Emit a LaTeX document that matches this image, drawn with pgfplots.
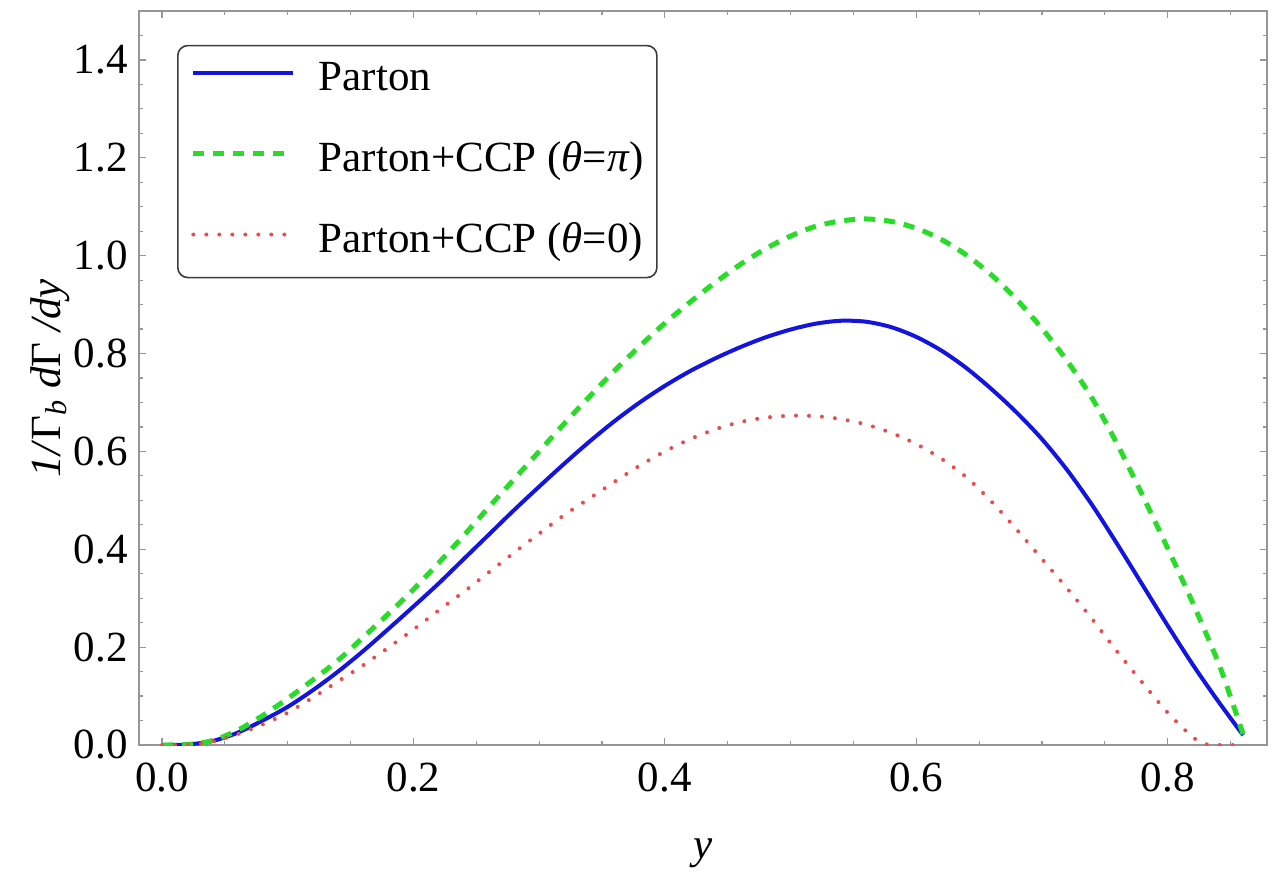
\documentclass[border=0pt]{standalone}
\usepackage{fontspec}
\setmainfont{Liberation Serif}
\usepackage{pgfplots}
\pgfplotsset{compat=1.18}
\definecolor{framegray}{RGB}{150,150,150}
\definecolor{legframe}{RGB}{60,60,60}
\definecolor{cblue}{RGB}{20,20,225}
\definecolor{cgreen}{RGB}{40,220,40}
\definecolor{cred}{RGB}{235,75,75}
\pgfkeys{/pgf/number format/.cd, fixed, fixed zerofill, precision=1, assume math mode=true}
\begin{document}
\begin{tikzpicture}[font=\fontsize{21.5}{26}\selectfont]
\begin{axis}[
  scale only axis, width=564pt, height=367pt,
  xmin=-0.0183, xmax=0.879, ymin=0, ymax=1.5,
  xtick={0,0.2,0.4,0.6,0.8,1.0},
  ytick={0,0.2,0.4,0.6,0.8,1.0,1.2,1.4,1.6},
  minor tick num=3,
  tick align=inside,
  major tick length=3.5pt, minor tick length=2pt,
  axis line style={framegray, line width=0.8pt},
  every tick/.style={framegray, line width=0.6pt},
  xticklabel style={anchor=north, inner sep=0pt, yshift=-9pt},
  yticklabel style={anchor=east, inner sep=0pt, xshift=-5.5pt},
  every axis x label/.style={at={(axis description cs:0.5,-0.154)}, anchor=base},
  every axis y label/.style={at={(axis description cs:-0.0789,0.5)}, rotate=90, anchor=center},
  xlabel={\textit{y}},
  ylabel={\textit{1/}Γ\textsubscript{\textit{b}}~\textit{d}Γ~\textit{/dy}},
  legend cell align=left,
  legend style={at={(0.0337,0.954)}, anchor=north west, draw=legframe, line width=0.8pt,
    rounded corners=5pt, inner xsep=6.5pt, inner ysep=7.5pt, row sep=20.5pt, column sep=11.5pt,
    nodes={inner sep=0pt, text height=15pt, text depth=5pt}},
  legend image code/.code={\draw[#1] (0pt,4pt) -- (50pt,4pt);},
]
\addplot[cblue, line width=2pt, smooth, tension=0.5] coordinates {
(0,0) (0.02,0.001) (0.04,0.008) (0.06,0.025) (0.08,0.05) (0.10,0.078) (0.12,0.112) (0.14,0.150) (0.16,0.192) (0.18,0.237) (0.20,0.283) (0.22,0.330) (0.24,0.380) (0.26,0.430) (0.28,0.480) (0.30,0.528) (0.32,0.575) (0.34,0.620) (0.36,0.662) (0.38,0.700) (0.40,0.734) (0.42,0.764) (0.44,0.790) (0.46,0.813) (0.48,0.833) (0.50,0.849) (0.52,0.861) (0.54,0.867) (0.56,0.865) (0.58,0.854) (0.60,0.834) (0.62,0.806) (0.64,0.770) (0.66,0.727) (0.68,0.679) (0.70,0.625) (0.72,0.562) (0.74,0.490) (0.76,0.410) (0.78,0.327) (0.80,0.244) (0.82,0.164) (0.84,0.090) (0.86,0.020)
};
\addlegendentry{Parton}
\addplot[cgreen, line width=2.5pt, dash pattern=on 5.5pt off 4.5pt, smooth, tension=0.5] coordinates {
(0,0) (0.02,0.001) (0.04,0.009) (0.06,0.030) (0.08,0.060) (0.10,0.095) (0.12,0.133) (0.14,0.173) (0.16,0.220) (0.18,0.268) (0.20,0.318) (0.22,0.372) (0.24,0.428) (0.26,0.486) (0.28,0.543) (0.30,0.600) (0.32,0.657) (0.34,0.712) (0.36,0.765) (0.38,0.815) (0.40,0.862) (0.42,0.905) (0.44,0.945) (0.46,0.982) (0.48,1.014) (0.50,1.040) (0.52,1.060) (0.54,1.071) (0.56,1.075) (0.58,1.070) (0.60,1.056) (0.62,1.033) (0.64,1.001) (0.66,0.960) (0.68,0.910) (0.70,0.851) (0.72,0.785) (0.74,0.708) (0.76,0.614) (0.78,0.510) (0.80,0.402) (0.82,0.290) (0.84,0.170) (0.85,0.098) (0.86,0.022)
};
\addlegendentry{Parton+CCP (\textit{θ}=\textit{π})}
\addplot[cred, line width=2pt, line cap=round, dash pattern=on 0pt off 6.5pt, smooth, tension=0.5] coordinates {
(0,0) (0.02,0.001) (0.04,0.007) (0.06,0.022) (0.08,0.042) (0.10,0.066) (0.12,0.097) (0.14,0.130) (0.16,0.163) (0.18,0.199) (0.20,0.236) (0.22,0.275) (0.24,0.313) (0.26,0.353) (0.28,0.393) (0.30,0.432) (0.32,0.470) (0.34,0.504) (0.36,0.538) (0.38,0.571) (0.40,0.600) (0.42,0.625) (0.44,0.645) (0.46,0.660) (0.48,0.669) (0.50,0.673) (0.52,0.672) (0.54,0.666) (0.56,0.655) (0.58,0.638) (0.60,0.615) (0.62,0.585) (0.64,0.547) (0.66,0.497) (0.68,0.440) (0.70,0.380) (0.72,0.320) (0.74,0.257) (0.76,0.190) (0.78,0.127) (0.80,0.066) (0.82,0.016) (0.83,0.002) (0.84,0) (0.86,0)
};
\addlegendentry{Parton+CCP (\textit{θ}=0)}
\end{axis}
\pgfresetboundingbox
\path[use as bounding box] ([xshift=-69.5pt,yshift=-67pt]current axis.south west) rectangle ([xshift=7pt,yshift=5.5pt]current axis.north east);
\end{tikzpicture}
\end{document}
